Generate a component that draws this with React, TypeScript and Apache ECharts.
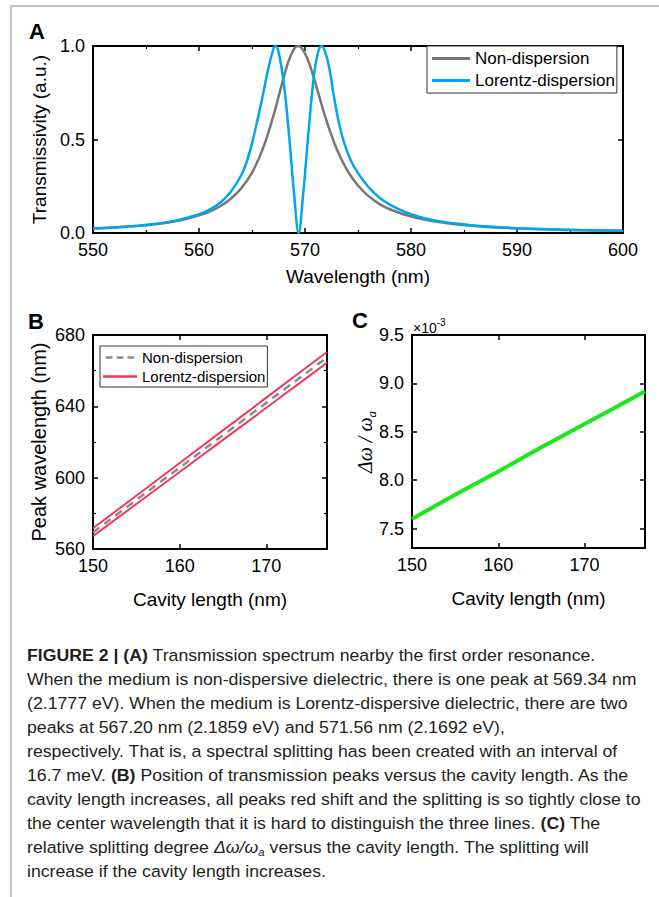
import React, { useEffect, useRef } from "react";
import * as echarts from "echarts";

const FONT = "'Liberation Sans', Arial, Helvetica, sans-serif";
const SERIF = "'Liberation Serif', 'Times New Roman', serif";

// ---------- Panel A: transmission spectrum ----------
const wavelengthNon = [
  550, 552, 554, 556, 558, 560, 561, 562, 563, 564, 565, 566, 567, 567.5, 568,
  568.5, 569, 569.34, 569.7, 570.2, 570.7, 571.2, 572, 573, 574, 575, 576, 577,
  578, 580, 582, 584, 586, 588, 590, 593, 596, 600,
];
const transNon = [
  0.023, 0.029, 0.037, 0.048, 0.065, 0.094, 0.115, 0.143, 0.183, 0.24, 0.323,
  0.447, 0.622, 0.727, 0.834, 0.927, 0.987, 1.0, 0.988, 0.936, 0.855, 0.759,
  0.606, 0.448, 0.334, 0.254, 0.197, 0.156, 0.127, 0.088, 0.064, 0.048, 0.038,
  0.03, 0.025, 0.019, 0.015, 0.012,
];
const wavelengthLor = [
  550, 552, 554, 556, 558, 560, 561, 562, 563, 564, 564.5, 565, 565.5, 566,
  566.5, 567, 567.2, 567.5, 568, 568.5, 569, 569.4, 569.8, 570.3, 570.8, 571.2,
  571.56, 571.9, 572.3, 572.7, 573.2, 573.7, 574.3, 575, 576, 577, 578, 580,
  582, 584, 586, 588, 590, 593, 596, 600,
];
const transLor = [
  0.024, 0.03, 0.038, 0.05, 0.068, 0.1, 0.125, 0.162, 0.22, 0.31, 0.38, 0.48,
  0.6, 0.73, 0.87, 0.98, 1.0, 0.97, 0.8, 0.52, 0.19, 0.0, 0.19, 0.52, 0.82,
  0.96, 1.0, 0.97, 0.88, 0.74, 0.59, 0.48, 0.39, 0.32, 0.245, 0.19, 0.152, 0.1,
  0.07, 0.052, 0.04, 0.032, 0.026, 0.02, 0.0155, 0.012,
];

// ---------- Panel B: peak wavelength vs cavity length ----------
const cavityLength = [150, 155, 160, 165, 170, 175, 177];
const peakNon = [569.3, 587.5, 605.6, 623.8, 642.0, 660.1, 667.4];
const peakLorUpper = [571.6, 589.9, 608.2, 626.5, 644.9, 663.2, 670.5];
const peakLorLower = [567.2, 585.2, 603.2, 621.2, 639.2, 657.2, 664.4];

// ---------- Panel C: relative splitting (x10^-3) ----------
const splitRatio = [7.6, 7.85, 8.09, 8.34, 8.58, 8.82, 8.92];

const legendLabels: Record<string, string> = {
  aNon: "Non-dispersion",
  aLor: "Lorentz-dispersion",
  bNon: "Non-dispersion",
  bLor: "Lorentz-dispersion",
};

const captionLines = [
  "{b|FIGURE 2 | (A)} Transmission spectrum nearby the first order resonance.",
  "When the medium is non-dispersive dielectric, there is one peak at 569.34 nm",
  "(2.1777 eV). When the medium is Lorentz-dispersive dielectric, there are two",
  "peaks at 567.20 nm (2.1859 eV) and 571.56 nm (2.1692 eV),",
  "respectively. That is, a spectral splitting has been created with an interval of",
  "16.7 meV. {b|(B)} Position of transmission peaks versus the cavity length. As the",
  "cavity length increases, all peaks red shift and the splitting is so tightly close to",
  "the center wavelength that it is hard to distinguish the three lines. {b|(C)} The",
  "relative splitting degree {i|Δω/ω}{s|a} versus the cavity length. The splitting will",
  "increase if the cavity length increases.",
];

const pairs = (xs: number[], ys: number[]) => xs.map((x, i) => [x, ys[i]]);

const axisLine = { show: true, onZero: false, lineStyle: { color: "#000", width: 2 } };
const axisTick = { show: true, inside: true, length: 5, lineStyle: { color: "#000", width: 1.5 } };
const minorTick = (n: number) => ({
  show: n > 0,
  splitNumber: n || 5,
  length: 3,
  lineStyle: { color: "#000", width: 1.2 },
});

function axis(o: any) {
  return {
    type: "value",
    gridIndex: o.grid,
    position: o.position,
    min: o.min,
    max: o.max,
    interval: o.interval,
    minInterval: o.minInterval,
    maxInterval: o.maxInterval,
    axisLine,
    axisTick,
    minorTick: minorTick(o.minor || 0),
    splitLine: { show: false },
    minorSplitLine: { show: false },
    axisLabel: {
      show: !!o.label,
      color: "#000",
      fontSize: 18,
      fontFamily: FONT,
      margin: 8,
      formatter: o.fmt,
      showMaxLabel: o.showMax,
      showMinLabel: o.showMin,
    },
    name: o.name,
    nameLocation: "middle",
    nameGap: o.nameGap,
    nameTextStyle: { fontSize: o.nameSize || 19, fontFamily: FONT, color: "#000" },
  };
}

const DASH_ICON = "path://M0,0h8v3h-8z M13,0h8v3h-8z M26,0h8v3h-8z";

function buildOption() {
  const canvas = document.createElement("canvas");
  const ctx = canvas.getContext("2d")!;
  ctx.font = `17px ${FONT}`;
  const refWidth = ctx.measureText(captionLines[1]).width;
  const sx = 610 / refWidth;

  const richCap = {
    b: { fontWeight: "bold", fontSize: 17, fontFamily: FONT, fill: "#231f20" },
    i: { fontStyle: "italic", fontSize: 17, fontFamily: FONT, fill: "#231f20" },
    s: { fontStyle: "italic", fontSize: 11, fontFamily: FONT, fill: "#231f20", verticalAlign: "bottom", lineHeight: 22 },
  };

  const graphics: any[] = [
    { type: "line", shape: { x1: 11, y1: 6, x2: 659, y2: 6 }, style: { stroke: "#c4c4c4", lineWidth: 2 }, silent: true },
    { type: "line", shape: { x1: 11, y1: 5, x2: 11, y2: 897 }, style: { stroke: "#c4c4c4", lineWidth: 2 }, silent: true },
    { type: "text", x: 29, y: 31, style: { text: "A", fontSize: 22, fontWeight: "bold", fontFamily: FONT, fill: "#000", verticalAlign: "middle" } },
    { type: "text", x: 28, y: 321, style: { text: "B", fontSize: 22, fontWeight: "bold", fontFamily: FONT, fill: "#000", verticalAlign: "middle" } },
    { type: "text", x: 352, y: 320, style: { text: "C", fontSize: 22, fontWeight: "bold", fontFamily: FONT, fill: "#000", verticalAlign: "middle" } },
    {
      type: "text",
      x: 413,
      y: 326,
      style: {
        text: "{m|×10}{s|-3}",
        verticalAlign: "middle",
        rich: {
          m: { fontSize: 14, fontFamily: FONT, fill: "#000", lineHeight: 18, verticalAlign: "bottom" },
          s: { fontSize: 10, fontFamily: FONT, fill: "#000", lineHeight: 18, verticalAlign: "top" },
        },
      },
    },
    {
      type: "text",
      x: 365,
      y: 442,
      rotation: Math.PI / 2,
      style: {
        text: "{i|Δω / ω}{s|a}",
        align: "center",
        verticalAlign: "middle",
        rich: {
          i: { fontSize: 20, fontStyle: "italic", fontFamily: SERIF, fill: "#000", lineHeight: 26, verticalAlign: "middle" },
          s: { fontSize: 13, fontStyle: "italic", fontFamily: SERIF, fill: "#000", lineHeight: 26, verticalAlign: "bottom" },
        },
      },
    },
  ];

  captionLines.forEach((line, i) => {
    graphics.push({
      type: "text",
      x: 27,
      y: 655 + i * 24,
      scaleX: sx,
      style: {
        text: line,
        fontSize: 17,
        fontFamily: FONT,
        fill: "#231f20",
        verticalAlign: "middle",
        rich: richCap,
      },
    });
  });

  return {
    animation: false,
    backgroundColor: "#fff",
    textStyle: { fontFamily: FONT },
    grid: [
      { left: 93, top: 46, width: 530, height: 187 },
      { left: 93, top: 335, width: 234, height: 214 },
      { left: 412, top: 335, width: 233, height: 213 },
    ],
    xAxis: [
      axis({ grid: 0, position: "bottom", min: 550, max: 600, interval: 10, minor: 2, label: true, name: "Wavelength (nm)", nameGap: 34 }),
      axis({ grid: 0, position: "top", min: 550, max: 600, interval: 10, minor: 2 }),
      axis({ grid: 1, position: "bottom", min: 150, max: 177, interval: 10, label: true, showMax: false, name: "Cavity length (nm)", nameGap: 41 }),
      axis({ grid: 1, position: "top", min: 150, max: 177, interval: 10 }),
      axis({ grid: 2, position: "bottom", min: 150, max: 177, interval: 10, label: true, showMax: false, name: "Cavity length (nm)", nameGap: 41 }),
      axis({ grid: 2, position: "top", min: 150, max: 177, interval: 10 }),
    ],
    yAxis: [
      axis({ grid: 0, position: "left", min: 0, max: 1, interval: 0.5, label: true, fmt: (v: number) => v.toFixed(1), name: "Transmissivity (a.u.)", nameGap: 42 }),
      axis({ grid: 0, position: "right", min: 0, max: 1, interval: 0.5 }),
      axis({ grid: 1, position: "left", min: 560, max: 680, interval: 40, minor: 2, label: true, name: "Peak wavelength (nm)", nameGap: 44, nameSize: 20 }),
      axis({ grid: 1, position: "right", min: 560, max: 680, interval: 40, minor: 2 }),
      axis({ grid: 2, position: "left", min: 7.3, max: 9.5, minInterval: 0.5, maxInterval: 0.5, label: true, showMin: false, fmt: (v: number) => v.toFixed(1) }),
      axis({ grid: 2, position: "right", min: 7.3, max: 9.5, minInterval: 0.5, maxInterval: 0.5 }),
    ],
    legend: [
      {
        data: [
          { name: "aNon", icon: "rect" },
          { name: "aLor", icon: "rect" },
        ],
        formatter: (n: string) => legendLabels[n],
        orient: "vertical",
        left: 427,
        top: 46,
        itemWidth: 38,
        itemHeight: 3,
        itemGap: 5,
        padding: [4, 2, 4, 5],
        borderColor: "#333",
        borderWidth: 1,
        backgroundColor: "#fff",
        textStyle: { fontSize: 17, fontFamily: FONT, color: "#000", lineHeight: 17 },
        selectedMode: false,
      },
      {
        data: [
          { name: "bNon", icon: DASH_ICON },
          { name: "bLor", icon: "rect" },
        ],
        formatter: (n: string) => legendLabels[n],
        orient: "vertical",
        left: 100,
        top: 346,
        itemWidth: 34,
        itemHeight: 2.5,
        itemGap: 4,
        padding: [4, 2, 3, 3],
        borderColor: "#333",
        borderWidth: 1,
        backgroundColor: "#fff",
        textStyle: { fontSize: 15, fontFamily: FONT, color: "#000", lineHeight: 15 },
        selectedMode: false,
      },
    ],
    series: [
      {
        name: "aNon", type: "line", xAxisIndex: 0, yAxisIndex: 0, data: pairs(wavelengthNon, transNon),
        smooth: 0.4, symbol: "none", lineStyle: { color: "#777777", width: 2.5 }, itemStyle: { color: "#777777" }, z: 2,
      },
      {
        name: "aLor", type: "line", xAxisIndex: 0, yAxisIndex: 0, data: pairs(wavelengthLor, transLor),
        smooth: 0.4, symbol: "none", lineStyle: { color: "#00A6EF", width: 2.5 }, itemStyle: { color: "#00A6EF" }, z: 3,
      },
      {
        name: "bNon", type: "line", xAxisIndex: 2, yAxisIndex: 2, data: pairs(cavityLength, peakNon),
        symbol: "none", lineStyle: { color: "#8c8c8c", width: 2.5, type: [8, 6] }, itemStyle: { color: "#8c8c8c" }, z: 2,
      },
      {
        name: "bLor", type: "line", xAxisIndex: 2, yAxisIndex: 2, data: pairs(cavityLength, peakLorUpper),
        symbol: "none", lineStyle: { color: "#F2385C", width: 2 }, itemStyle: { color: "#F2385C" }, z: 3,
      },
      {
        name: "bLor", type: "line", xAxisIndex: 2, yAxisIndex: 2, data: pairs(cavityLength, peakLorLower),
        symbol: "none", lineStyle: { color: "#F2385C", width: 2 }, itemStyle: { color: "#F2385C" }, z: 3,
      },
      {
        name: "cRatio", type: "line", xAxisIndex: 4, yAxisIndex: 4, data: pairs(cavityLength, splitRatio),
        symbol: "none", lineStyle: { color: "#1BE81B", width: 4 }, itemStyle: { color: "#1BE81B" }, z: 3,
      },
    ],
    graphic: graphics,
  };
}

export default function App() {
  const ref = useRef<HTMLDivElement>(null);
  useEffect(() => {
    const chart = echarts.init(ref.current!, null, { renderer: "svg" });
    chart.setOption(buildOption() as any);
    return () => chart.dispose();
  }, []);
  return (
    <div
      ref={ref}
      style={{ position: "absolute", left: 0, top: 0, width: 659, height: 897, background: "#fff" }}
    />
  );
}
